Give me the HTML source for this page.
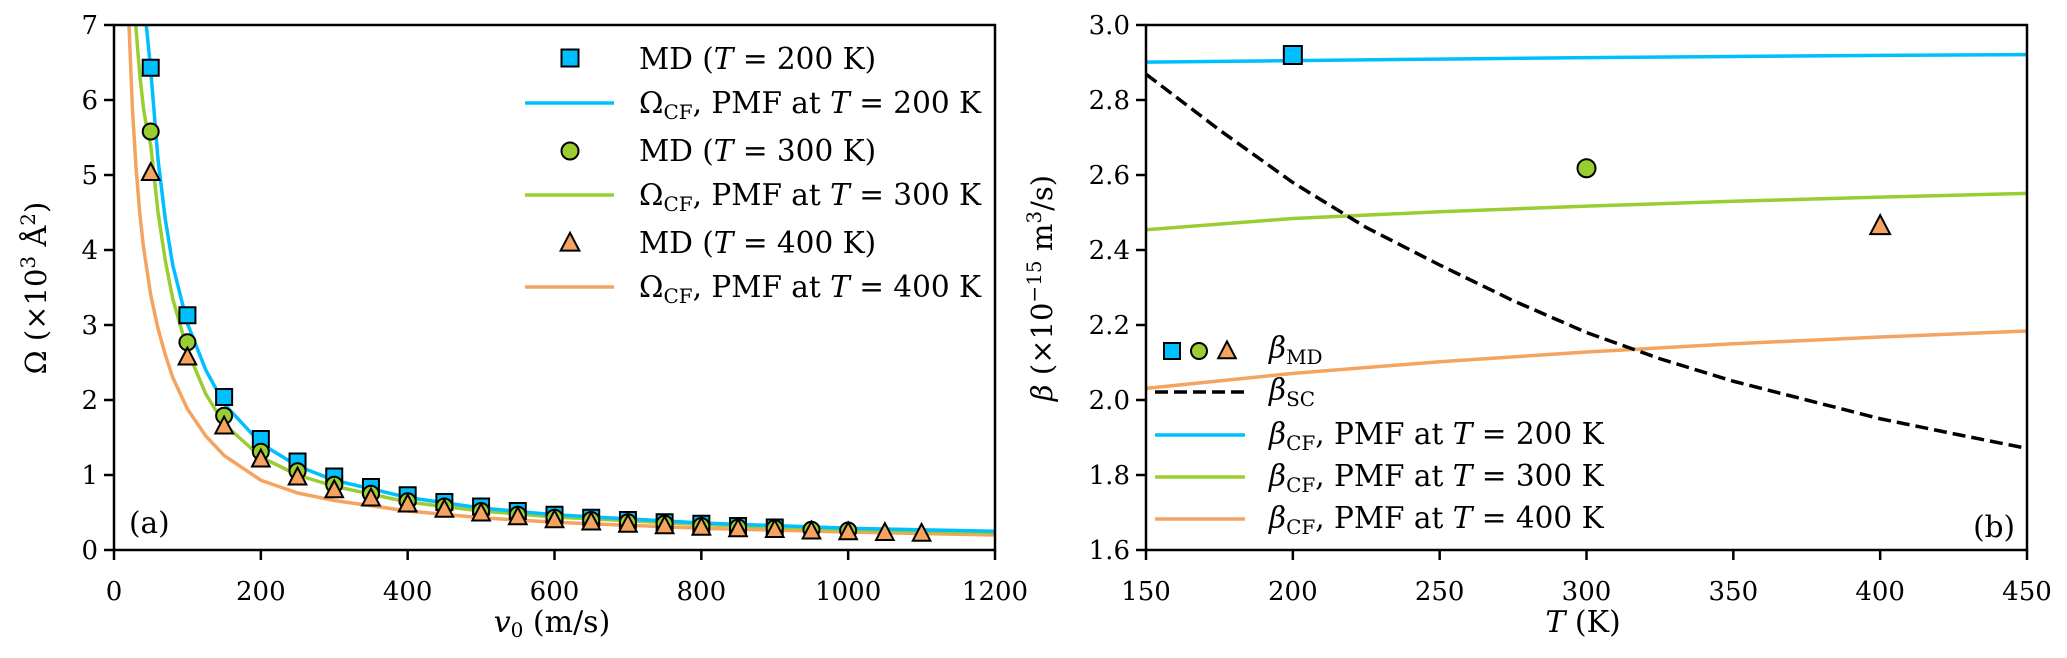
<!DOCTYPE html>
<html><head><meta charset="utf-8"><style>
html,body{margin:0;padding:0;background:#fff;}
svg{display:block;font-family:"DejaVu Serif","Liberation Serif",serif;}
</style></head><body>
<svg id="fig" width="2067" height="658" viewBox="0 0 2067 658" xmlns="http://www.w3.org/2000/svg">
<defs>
<clipPath id="clipA"><rect x="114" y="25" width="881" height="525"/></clipPath>
<clipPath id="clipB"><rect x="1146" y="25" width="881" height="525"/></clipPath>
</defs>
<g id="panelA"></g>
<g id="panelB"></g>
</svg>
<script>
// ---------- Panel (a) data ----------
const mdV200 = [50,100,150,200,250,300,350,400,450,500,550,600,650,700,750,800,850,900];
const mdO200 = [6.43,3.13,2.04,1.48,1.18,0.98,0.84,0.73,0.64,0.58,0.52,0.47,0.43,0.40,0.37,0.35,0.32,0.30];
const mdV300 = [50,100,150,200,250,300,350,400,450,500,550,600,650,700,750,800,850,900,950,1000];
const mdO300 = [5.58,2.77,1.79,1.31,1.05,0.87,0.75,0.65,0.58,0.52,0.47,0.43,0.40,0.37,0.35,0.32,0.30,0.29,0.27,0.26];
const mdV400 = [50,100,150,200,250,300,350,400,450,500,550,600,650,700,750,800,850,900,950,1000,1050,1100];
const mdO400 = [5.03,2.57,1.65,1.21,0.97,0.80,0.69,0.61,0.54,0.49,0.44,0.40,0.37,0.34,0.32,0.30,0.28,0.27,0.25,0.24,0.23,0.22];
const cfV200 = [40,45,50,60,70,80,100,125,150,200,250,300,400,500,600,800,1000,1200];
const cfO200 = [7.4,6.9,6.4,5.2,4.4,3.8,3.02,2.4,1.95,1.42,1.12,0.93,0.70,0.56,0.47,0.36,0.29,0.25];
const cfV300 = [28,30,35,40,45,50,60,70,80,100,125,150,200,250,300,400,500,600,800,1000,1200];
const cfO300 = [7.3,6.95,6.35,5.9,5.6,5.4,4.5,3.85,3.35,2.66,2.08,1.68,1.24,1.0,0.85,0.64,0.52,0.44,0.34,0.27,0.23];
const cfV400 = [20,25,30,35,40,50,60,70,80,100,125,150,200,250,300,400,500,600,800,1000,1200];
const cfO400 = [7.1,5.9,5.1,4.5,4.05,3.4,2.95,2.6,2.3,1.88,1.52,1.26,0.93,0.76,0.66,0.52,0.43,0.37,0.29,0.24,0.20];
const xTicksA = [0,200,400,600,800,1000,1200];
const yTicksA = [0,1,2,3,4,5,6,7];
// ---------- Panel (b) data ----------
const mdT = [200,300,400];
const mdBeta = [2.92,2.618,2.464];
const cfT = [150,200,250,300,350,400,450];
const cfB200 = [2.901,2.905,2.909,2.913,2.916,2.919,2.921];
const cfB300 = [2.454,2.484,2.502,2.517,2.530,2.541,2.551];
const cfB400 = [2.031,2.071,2.102,2.128,2.150,2.168,2.184];
const scT = [150,175,200,225,250,275,300,325,350,375,400,425,450];
const scB = [2.869,2.72,2.58,2.46,2.36,2.265,2.18,2.11,2.05,2.0,1.95,1.91,1.871];
const xTicksB = [150,200,250,300,350,400,450];
const yTicksB = ["1.6","1.8","2.0","2.2","2.4","2.6","2.8","3.0"];

const NS = "http://www.w3.org/2000/svg";
const C_BLUE = "#00bfff", C_GREEN = "#9acd32", C_ORANGE = "#f4a460";
function mk(tag, attrs, parent){ const e=document.createElementNS(NS,tag); for(const k in attrs) e.setAttribute(k,attrs[k]); if(parent) parent.appendChild(e); return e; }

const L = 114, R = 995, T0 = 25, B0 = 550;
const xA = v => L + (v/1200)*(R-L);
const yA = o => B0 - (o/7)*(B0-T0);
const L2 = 1146, R2 = 2027;
const xB = t => L2 + (t-150)/300*(R2-L2);
const yB = b => B0 - (b-1.6)/1.4*(B0-T0);

function marker(g, type, cx, cy, color, s){
  let e;
  if(type==="s") e = mk("rect",{x:cx-s/2,y:cy-s/2,width:s,height:s},g);
  else if(type==="o") e = mk("circle",{cx:cx,cy:cy,r:s/2},g);
  else e = mk("polygon",{points:`${cx},${cy-s*0.6} ${cx-s*0.55},${cy+s*0.45} ${cx+s*0.55},${cy+s*0.45}`},g);
  e.setAttribute("fill",color); e.setAttribute("stroke","#000"); e.setAttribute("stroke-width","2");
  return e;
}
function line(g, xs, ys, fx, fy, color, clip, dash){
  const p = mk("polyline",{points: xs.map((x,i)=>fx(x)+","+fy(ys[i])).join(" "), fill:"none", stroke:color, "stroke-width":3.5, "clip-path":`url(#${clip})`, "stroke-linejoin":"round"},g);
  if(dash) p.setAttribute("stroke-dasharray",dash);
  return p;
}

// ---------- Panel A ----------
const gA = document.getElementById("panelA");
const cA1 = line(gA, cfV400, cfO400, xA, yA, C_ORANGE, "clipA");


const cA2 = line(gA, cfV300, cfO300, xA, yA, C_GREEN, "clipA");


const cA3 = line(gA, cfV200, cfO200, xA, yA, C_BLUE, "clipA");


mdV200.forEach((v,i)=>{ const m=marker(gA,"s",xA(v),yA(mdO200[i]),C_BLUE,16);
  
   });
mdV300.forEach((v,i)=>{ const m=marker(gA,"o",xA(v),yA(mdO300[i]),C_GREEN,16);
  
   });
mdV400.forEach((v,i)=>{ const m=marker(gA,"t",xA(v),yA(mdO400[i]),C_ORANGE,16);
  
   });
xTicksA.forEach(v=>{
  mk("line",{x1:xA(v),x2:xA(v),y1:B0,y2:B0+10,stroke:"#000","stroke-width":2.5},gA);
  const t=mk("text",{x:xA(v),y:600,"font-size":26,"text-anchor":"middle"},gA); t.textContent=v;
  
  
});
yTicksA.forEach(o=>{
  mk("line",{x1:L-10,x2:L,y1:yA(o),y2:yA(o),stroke:"#000","stroke-width":2.5},gA);
  const t=mk("text",{x:L-16,y:yA(o)+9,"font-size":26,"text-anchor":"end"},gA); t.textContent=o;
  
  
});
mk("rect",{x:L,y:T0,width:R-L,height:B0-T0,fill:"none",stroke:"#000","stroke-width":2.5},gA);

// ---------- Panel B ----------
const gB = document.getElementById("panelB");
const bl1 = line(gB, cfT, cfB200, xB, yB, C_BLUE, "clipB");


const bl2 = line(gB, cfT, cfB300, xB, yB, C_GREEN, "clipB");


const bl3 = line(gB, cfT, cfB400, xB, yB, C_ORANGE, "clipB");


const bl4 = line(gB, scT, scB, xB, yB, "#000", "clipB", "13 6");


const types = ["s","o","t"], cols=[C_BLUE,C_GREEN,C_ORANGE];
mdT.forEach((t,i)=>{ const m=marker(gB,types[i],xB(t),yB(mdBeta[i]),cols[i],18);
  
   });
xTicksB.forEach(v=>{
  mk("line",{x1:xB(v),x2:xB(v),y1:B0,y2:B0+10,stroke:"#000","stroke-width":2.5},gB);
  const t=mk("text",{x:xB(v),y:600,"font-size":26,"text-anchor":"middle"},gB); t.textContent=v;
  
  
});
yTicksB.forEach(s=>{
  const b=parseFloat(s);
  mk("line",{x1:L2-10,x2:L2,y1:yB(b),y2:yB(b),stroke:"#000","stroke-width":2.5},gB);
  const t=mk("text",{x:L2-16,y:yB(b)+9,"font-size":26,"text-anchor":"end"},gB); t.textContent=s;
  
  
});
mk("rect",{x:L2,y:T0,width:R2-L2,height:B0-T0,fill:"none",stroke:"#000","stroke-width":2.5},gB);

[[1172,"s",C_BLUE],[1199,"o",C_GREEN],[1227,"t",C_ORANGE]].forEach(a=>{
  const m=marker(gB,a[1],a[0],351,a[2],16);
  
  
});
[[58,"s",C_BLUE],[151,"o",C_GREEN],[243,"t",C_ORANGE]].forEach(a=>{
  const m=marker(gA,a[1],570,a[0],a[2],17);
  
  
});
</script>
<svg width="2067" height="658" style="position:absolute;left:0;top:0" xmlns="http://www.w3.org/2000/svg">
<g font-family="DejaVu Serif, Liberation Serif, serif" font-size="29.5">
  <g>
    <line x1="525" x2="614" y1="103" y2="103" stroke="#00bfff" stroke-width="3.5"/>
    <line x1="525" x2="614" y1="195" y2="195" stroke="#9acd32" stroke-width="3.5"/>
    <line x1="525" x2="614" y1="287" y2="287" stroke="#f4a460" stroke-width="3.5"/>
    <text x="639" y="69">MD (<tspan font-style="italic">T</tspan> = 200 K)</text>
    <text x="639" y="113">Ω<tspan font-size="20" dy="6">CF</tspan><tspan dy="-6">, PMF at </tspan><tspan font-style="italic">T</tspan> = 200 K</text>
    <text x="639" y="161">MD (<tspan font-style="italic">T</tspan> = 300 K)</text>
    <text x="639" y="205">Ω<tspan font-size="20" dy="6">CF</tspan><tspan dy="-6">, PMF at </tspan><tspan font-style="italic">T</tspan> = 300 K</text>
    <text x="639" y="253">MD (<tspan font-style="italic">T</tspan> = 400 K)</text>
    <text x="639" y="297">Ω<tspan font-size="20" dy="6">CF</tspan><tspan dy="-6">, PMF at </tspan><tspan font-style="italic">T</tspan> = 400 K</text>
  </g>
  <text x="129" y="533">(a)</text>
  <text x="552" y="632" font-size="30" text-anchor="middle"><tspan font-style="italic">v</tspan><tspan font-size="20" dy="5">0</tspan><tspan dy="-5"> (m/s)</tspan></text>
  <text transform="translate(46,288) rotate(-90)" font-size="29" text-anchor="middle">Ω (×10<tspan font-size="20" dy="-11">3</tspan><tspan dy="11"> Å</tspan><tspan font-size="20" dy="-11">2</tspan><tspan dy="11">)</tspan></text>
  <g>
    <line x1="1155" x2="1245" y1="392" y2="392" stroke="#000" stroke-width="3.5" stroke-dasharray="13 6"/>
    <line x1="1155" x2="1245" y1="435" y2="435" stroke="#00bfff" stroke-width="3.5"/>
    <line x1="1155" x2="1245" y1="477" y2="477" stroke="#9acd32" stroke-width="3.5"/>
    <line x1="1155" x2="1245" y1="519" y2="519" stroke="#f4a460" stroke-width="3.5"/>
    <text x="1269" y="358"><tspan font-style="italic">β</tspan><tspan font-size="20" dy="6">MD</tspan></text>
    <text x="1269" y="400"><tspan font-style="italic">β</tspan><tspan font-size="20" dy="6">SC</tspan></text>
    <text x="1269" y="444"><tspan font-style="italic">β</tspan><tspan font-size="20" dy="6">CF</tspan><tspan dy="-6">, PMF at </tspan><tspan font-style="italic">T</tspan> = 200 K</text>
    <text x="1269" y="486"><tspan font-style="italic">β</tspan><tspan font-size="20" dy="6">CF</tspan><tspan dy="-6">, PMF at </tspan><tspan font-style="italic">T</tspan> = 300 K</text>
    <text x="1269" y="528"><tspan font-style="italic">β</tspan><tspan font-size="20" dy="6">CF</tspan><tspan dy="-6">, PMF at </tspan><tspan font-style="italic">T</tspan> = 400 K</text>
  </g>
  <text x="2015" y="537" text-anchor="end">(b)</text>
  <text x="1583" y="632" font-size="30" text-anchor="middle"><tspan font-style="italic">T</tspan> (K)</text>
  <text transform="translate(1052,288) rotate(-90)" font-size="29" text-anchor="middle"><tspan font-style="italic">β</tspan> (×10<tspan font-size="20" dy="-11">−15</tspan><tspan dy="11"> m</tspan><tspan font-size="20" dy="-11">3</tspan><tspan dy="11">/s)</tspan></text>
</g>
</svg>
</body></html>
